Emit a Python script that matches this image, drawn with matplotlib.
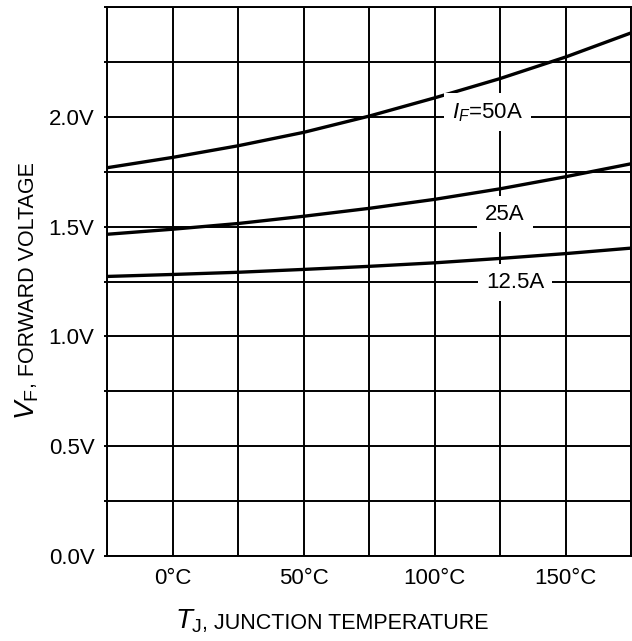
import matplotlib
matplotlib.use("Agg")
import matplotlib.pyplot as plt
import numpy as np

plt.rcParams['font.family'] = ['Liberation Sans', 'DejaVu Sans']
plt.rcParams['mathtext.fontset'] = 'custom'
plt.rcParams['mathtext.rm'] = 'Liberation Sans'
plt.rcParams['mathtext.it'] = 'Liberation Sans:italic'

# junction temperature (deg C) and forward voltage (V)
temps = [-25, 0, 25, 50, 75, 100, 125, 150, 175]
vf_50a = [1.768, 1.815, 1.868, 1.929, 2.003, 2.086, 2.174, 2.272, 2.382]
vf_25a = [1.465, 1.488, 1.514, 1.547, 1.583, 1.624, 1.672, 1.727, 1.786]
vf_12a = [1.273, 1.282, 1.292, 1.305, 1.319, 1.335, 1.355, 1.377, 1.402]

curve_labels = [r'$I_F$=50A', '25A', '12.5A']
label_pos = [(120.2, 2.02), (126.9, 1.557), (130.7, 1.245)]

xticks = [0, 50, 100, 150]
xticklabels = ['0°C', '50°C', '100°C', '150°C']
yticks = [0.0, 0.5, 1.0, 1.5, 2.0]
yticklabels = ['0.0V', '0.5V', '1.0V', '1.5V', '2.0V']

fig = plt.figure(figsize=(6.32, 6.41), dpi=100)
ax = fig.add_axes([107/632, 1 - 556/641, 524/632, 549/641])

for v in (vf_50a, vf_25a, vf_12a):
    ax.plot(temps, v, color='black', lw=2.4, zorder=3, solid_capstyle='butt')

ax.set_xlim(-25, 175)
ax.set_ylim(0, 2.5)
ax.set_xticks(xticks)
ax.set_xticklabels(xticklabels, fontsize=16)
ax.set_xticks(np.arange(-25, 176, 25), minor=True)
ax.set_yticks(yticks)
ax.set_yticklabels(yticklabels, fontsize=16)
ax.set_yticks(np.arange(0, 2.51, 0.25), minor=True)

ax.grid(which='both', color='black', lw=1.4)
ax.set_axisbelow(True)
ax.tick_params(axis='x', which='both', length=0, pad=9)
ax.tick_params(axis='y', which='both', length=2, width=1.4, pad=7)
for s in ax.spines.values():
    s.set_linewidth(1.4)

for txt, (x, y) in zip(curve_labels, label_pos):
    ax.text(x, y, txt, fontsize=16, ha='center', va='center', zorder=4,
            bbox=dict(boxstyle='square,pad=0.35', fc='white', ec='none'))

# axis titles: big italic symbol with subscript, then plain text
fig.canvas.draw()
r = fig.canvas.get_renderer()

ty = fig.text(27/632, 1 - 420/641, r'$V_{\mathrm{F}}$', fontsize=20,
              rotation=90, ha='center', va='bottom')
bb = ty.get_window_extent(r)
fig.text(29/632, bb.y1/641, ', FORWARD VOLTAGE', fontsize=15.5,
         rotation=90, ha='center', va='bottom')

tx = fig.text(175/632, 1 - 621/641, r'$T_{\mathrm{J}}$', fontsize=20,
              ha='left', va='center')
bb = tx.get_window_extent(r)
fig.text(bb.x1/632, 1 - 624/641, ', JUNCTION TEMPERATURE', fontsize=15.5,
         ha='left', va='center')

fig.savefig('out.png', dpi=100)
